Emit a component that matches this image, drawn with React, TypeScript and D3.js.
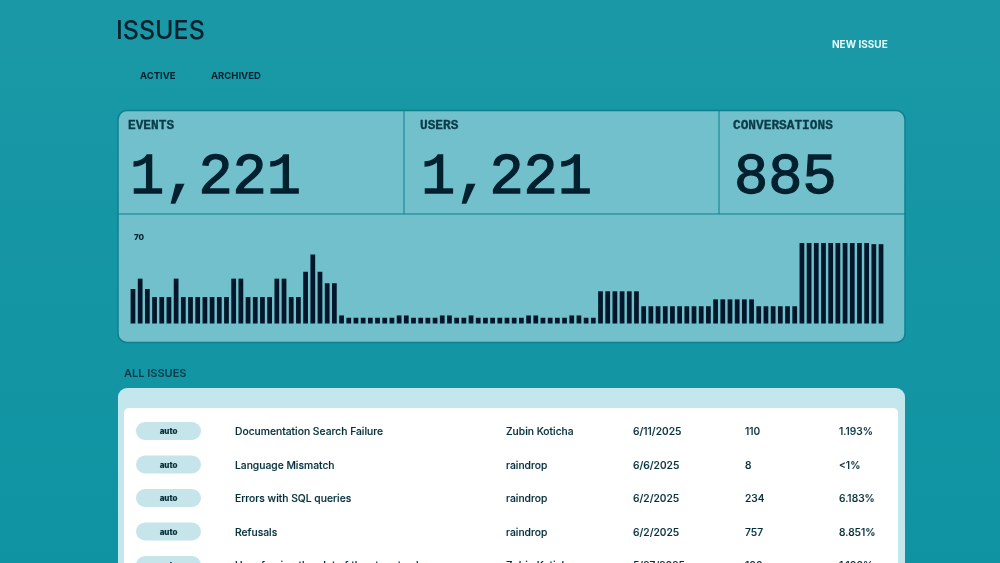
import React from 'react';
import * as d3 from 'd3';

const W = 1000;
const H = 563;

// daily event counts
const low = 5;
const mid = 7;
const barValues = [
  30, 39, 30, 23, 23, 23, 39, 23, 23, 23, 23, 23, 23, 23, 39, 39, 23, 23, 23, 23,
  39, 39, 23, 23, 45, 60, 45, 35, 35, mid, low, low, low, low, low, low, low, mid, mid, low,
  low, low, low, mid, mid, low, low, mid, low, low, low, low, low, low, low, mid, mid, low,
  low, low, low, mid, mid, low, low, 28, 28, 28, 28, 28, 28, 15, 15, 15, 15, 15, 15, 15,
  15, 15, 15, 21, 21, 21, 21, 21, 21, 15, 15, 15, 15, 15, 15, 70, 70, 70, 70, 70, 70, 70,
  70, 70, 70, 69, 69,
];
const barMaxLabel = '70';

const statLabels = ['EVENTS', 'USERS', 'CONVERSATIONS'];
const statValues = ['1,221', '1,221', '885'];

const issueTags = ['auto', 'auto', 'auto', 'auto', 'auto'];
const issueTitles = [
  'Documentation Search Failure',
  'Language Mismatch',
  'Errors with SQL queries',
  'Refusals',
  'User forcing the plot of the story to change',
];
const issueOwners = ['Zubin Koticha', 'raindrop', 'raindrop', 'raindrop', 'Zubin Koticha'];
const issueDates = ['6/11/2025', '6/6/2025', '6/2/2025', '6/2/2025', '5/27/2025'];
const issueCounts = ['110', '8', '234', '757', '100'];
const issueShares = ['1.193%', '<1%', '6.183%', '8.851%', '1.100%'];

const ink = '#06202f';
const panel = '#71c0cb';
const edge = '#0d808d';

const monoFont = '"Liberation Mono", monospace';
const sansFont = 'Inter, "Noto Sans", sans-serif';

const x = d3
  .scaleBand<number>()
  .domain(d3.range(barValues.length))
  .range([130.6, 883.4])
  .paddingInner(0.34);
const y = d3.scaleLinear().domain([0, 70]).range([323.5, 243]);

const rowY = d3.scaleLinear().domain([0, 4]).range([431, 565]);

const statX = [128, 420, 733];
const statValueX = [130, 421, 734];

const App: React.FC = () => (
  <svg
    width={W}
    height={H}
    viewBox={`0 0 ${W} ${H}`}
    style={{ position: 'fixed', left: 0, top: 0, display: 'block' }}
  >
    <defs>
      <linearGradient id="bg" x1="0" y1="0" x2="0" y2="1">
        <stop offset="0" stopColor="#1a98a6" />
        <stop offset="1" stopColor="#0f93a2" />
      </linearGradient>
      <filter id="soft">
        <feGaussianBlur stdDeviation="0.45" />
      </filter>
    </defs>
    <rect width={W} height={H} fill="url(#bg)" />
    <g filter="url(#soft)">
      <text x={116} y={39} fontFamily={sansFont} fontSize={25} fontWeight={500} fill={ink}>ISSUES</text>
      <text x={140} y={79} fontFamily={sansFont} fontSize={9.5} fontWeight={700} fill={ink}>ACTIVE</text>
      <text x={211} y={79} fontFamily={sansFont} fontSize={9.5} fontWeight={700} fill={ink}>ARCHIVED</text>
      <text x={832} y={48} fontFamily={sansFont} fontSize={10} fontWeight={700} fill="#e8fbfd">NEW ISSUE</text>

      <rect x={118} y={110.5} width={787} height={232} rx={9} fill={panel} stroke={edge} strokeWidth={1.5} />
      <line x1={118} x2={905} y1={214} y2={214} stroke={edge} strokeWidth={1} />
      <line x1={404} x2={404} y1={110.5} y2={214} stroke={edge} strokeWidth={1} />
      <line x1={719} x2={719} y1={110.5} y2={214} stroke={edge} strokeWidth={1} />

      {statLabels.map((label, i) => (
        <text key={label} x={statX[i]} y={129} fontFamily={monoFont} fontSize={12.8} fontWeight={700} fill="#0a3a49" stroke="#0a3a49" strokeWidth={0.3}>
          {label}
        </text>
      ))}
      {statValues.map((value, i) => (
        <text key={i} x={statValueX[i]} y={193} fontFamily={monoFont} fontSize={57} fill={ink} stroke={ink} strokeWidth={1.3}>
          {value}
        </text>
      ))}

      <text x={134} y={240} fontFamily={sansFont} fontSize={8} fontWeight={800} fill={ink}>{barMaxLabel}</text>
      {barValues.map((v, i) => (
        <rect key={i} x={x(i)} y={y(v)} width={x.bandwidth()} height={y(0) - y(v)} fill="#03182a" />
      ))}

      <text x={124} y={377} fontFamily={sansFont} fontSize={11} fontWeight={600} fill="#0a3a49">ALL ISSUES</text>

      <rect x={118} y={388} width={787} height={190} rx={9} fill="#c3e7ec" />
      <rect x={124} y={408} width={774} height={170} rx={5} fill="#ffffff" />

      {issueTitles.map((title, i) => (
        <g key={title} fontFamily={sansFont} fontSize={10.3} fontWeight={500} fill="#06303c" stroke="#06303c" strokeWidth={0.15}>
          <rect x={136} y={rowY(i) - 9} width={65} height={18} rx={9} fill="#c6e5ea" stroke="none" />
          <text x={168.5} y={rowY(i) + 3} textAnchor="middle" fontSize={8} fontWeight={800}>{issueTags[i]}</text>
          <text x={235} y={rowY(i) + 4}>{title}</text>
          <text x={506} y={rowY(i) + 4}>{issueOwners[i]}</text>
          <text x={633} y={rowY(i) + 4}>{issueDates[i]}</text>
          <text x={745} y={rowY(i) + 4}>{issueCounts[i]}</text>
          <text x={839} y={rowY(i) + 4}>{issueShares[i]}</text>
        </g>
      ))}
    </g>
  </svg>
);

export default App;
